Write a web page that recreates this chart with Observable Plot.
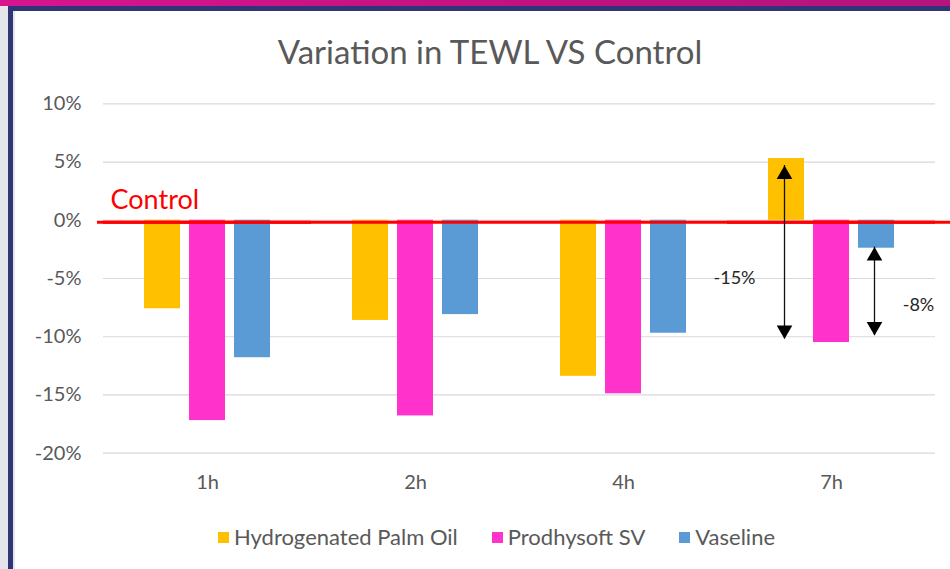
<!DOCTYPE html>
<html>
<head>
<meta charset="utf-8">
<script src="https://cdn.jsdelivr.net/npm/d3@7"></script>
<script src="https://cdn.jsdelivr.net/npm/@observablehq/plot@0.6"></script>
<style>
  body { margin: 0; }
  #frame { position: relative; width: 950px; height: 569px; overflow: hidden; background: #fff; font-family: Lato, "Open Sans", sans-serif; }
  .strip { position: absolute; }
  #title { position: absolute; top: 32px; left: 30px; right: 0; text-align: center; font-size: 33px; line-height: 38px; color: #595959; }
  #chart { position: absolute; top: 80px; left: 0; }
  #legend { position: absolute; top: 524px; left: 218px; display: flex; align-items: center; font-size: 22px; line-height: 26px; color: #595959; }
  #legend .item { display: flex; align-items: center; margin-right: 34px; }
  #legend .sw { width: 11px; height: 11px; margin-right: 5px; }
</style>
</head>
<body>
<div id="frame">
  <div class="strip" style="left:0;top:0;width:950px;height:6px;background:linear-gradient(90deg,#d8158e,#c0127f 60%,#b5147c);"></div>
  <div class="strip" style="left:0;top:6px;width:8px;height:563px;background:#e4e4ea;"></div>
  <div class="strip" style="left:8px;top:6px;width:942px;height:5px;background:#2f3577;"></div>
  <div class="strip" style="left:8px;top:6px;width:5px;height:563px;background:#2f3577;"></div>
  <div class="strip" style="left:13px;top:11px;width:2px;height:558px;background:#e6e6ea;"></div>
  <div id="title">Variation in TEWL VS Control</div>
  <div id="chart"></div>
  <div id="legend"></div>
</div>
<script>
// ---- data ----
const times = ["1h", "2h", "4h", "7h"];
const series = ["Hydrogenated Palm Oil", "Prodhysoft SV", "Vaseline"];
const palmOil = [-7.6, -8.6, -13.4, 5.3];
const prodhysoft = [-17.2, -16.8, -14.9, -10.5];
const vaseline = [-11.8, -8.1, -9.7, -2.4];
const colors = ["#FFC000", "#FF33CC", "#5B9BD5"];
const yTicks = [-20, -15, -10, -5, 0, 5, 10];

// annotations (7h group)
const annTime = ["7h", "7h"];
const annSeries = ["Hydrogenated Palm Oil", "Vaseline"];
const annLabels = ["-15%", "-8%"];
const annFrom = [4.7, -2.3];
const annTo = [-10.2, -9.9];
const annLabelY = [-5.0, -7.3];
const controlLabel = "Control";
const controlLabelY = 1.7;

// ---- tables ----
const valuesBySeries = [palmOil, prodhysoft, vaseline];
const bars = times.flatMap((t, i) => series.map((s, j) => ({time: t, series: s, value: valuesBySeries[j][i]})));
const arrows = annLabels.map((l, i) => ({time: annTime[i], series: annSeries[i], label: l, from: annFrom[i], to: annTo[i], ly: annLabelY[i]}));

const chart = Plot.plot({
  width: 950,
  height: 425,
  marginTop: 23.3,
  marginBottom: 52.3,
  marginLeft: 103,
  marginRight: 15,
  style: {background: "transparent", fontFamily: "Lato, 'Open Sans', sans-serif", fontSize: "20px", color: "#595959", overflow: "visible"},
  fx: {domain: times, padding: 0, label: null, axis: "bottom", tickSize: 0, tickPadding: 22},
  x: {domain: series, axis: null, paddingInner: 0.196, paddingOuter: 0.859},
  y: {domain: [-20, 10], ticks: yTicks, tickFormat: d => `${d}%`, tickSize: 0, tickPadding: 22, label: null},
  color: {domain: series, range: colors},
  marks: [
    Plot.ruleY(yTicks, {stroke: "#d9d9d9", strokeWidth: 1.2}),
    Plot.barY(bars, {fx: "time", x: "series", y: "value", fill: "series"}),
    Plot.ruleY([0], {stroke: "#ff0000", strokeWidth: 3, dy: 2}),
    Plot.ruleY([0], {fx: () => times[0], stroke: "#ff0000", strokeWidth: 3, insetLeft: -6, dy: 2}),
    Plot.ruleY([0], {fx: () => times[times.length - 1], stroke: "#ff0000", strokeWidth: 3, insetRight: -15, dy: 2}),
    Plot.text([controlLabel], {fx: () => times[0], y: () => controlLabelY, text: d => d, frameAnchor: "left", textAnchor: "start", dx: 7, fill: "#ff0000", fontSize: 27}),
    Plot.ruleX(arrows, {fx: "time", x: "series", y1: "from", y2: "to", stroke: "#111", strokeWidth: 1.3, dx: -2}),
    Plot.dot(arrows, {fx: "time", x: "series", y: "from", symbol: "triangle", r: 5.8, fill: "#000", stroke: null, dy: 9, dx: -2}),
    Plot.dot(arrows, {fx: "time", x: "series", y: "to", symbol: "triangle", r: 5.8, fill: "#000", stroke: null, rotate: 180, dy: -9, dx: -2}),
    Plot.text(arrows.slice(0, 1), {fx: "time", x: "series", y: "ly", text: "label", dx: -52, fill: "#262626", fontSize: 18}),
    Plot.text(arrows.slice(1), {fx: "time", x: "series", y: "ly", text: "label", dx: 42, fill: "#262626", fontSize: 18})
  ]
});
document.getElementById("chart").appendChild(chart);

const legend = document.getElementById("legend");
series.forEach((s, i) => {
  const item = document.createElement("div");
  item.className = "item";
  const sw = document.createElement("span");
  sw.className = "sw";
  sw.style.background = colors[i];
  const lab = document.createElement("span");
  lab.textContent = s;
  item.appendChild(sw);
  item.appendChild(lab);
  legend.appendChild(item);
});
</script>
</body>
</html>
